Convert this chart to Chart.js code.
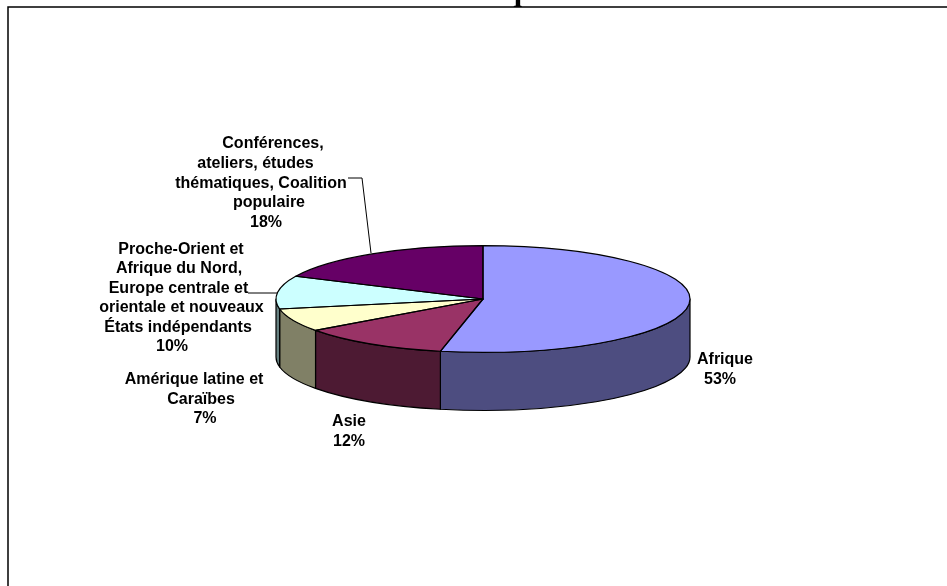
<!DOCTYPE html>
<html>
<head>
<meta charset="utf-8">
<title>thématiques</title>
<script src="https://cdn.jsdelivr.net/npm/chart.js@4/dist/chart.umd.min.js"></script>
<style>
  html, body { margin: 0; padding: 0; background: #fff; overflow: hidden; }
  canvas { display: block; }
</style>
</head>
<body>
<canvas id="myChart" width="947" height="586"></canvas>
<script>
const titleText = 'thématiques';
const categories = [
  ['Afrique'],
  ['Asie'],
  ['Amérique latine et', 'Caraïbes'],
  ['Proche-Orient et', 'Afrique du Nord,', 'Europe centrale et', 'orientale et nouveaux', 'États indépendants'],
  ['Conférences,', 'ateliers, études', 'thématiques, Coalition', 'populaire']
];
const shares = [53.3, 11.7, 7, 10, 18];
const topColors = ['#9999ff', '#993366', '#ffffcc', '#ccffff', '#660066'];
const wallColors = ['#4d4d80', '#4d1a33', '#808066', '#668080', '#330033'];

// where each label line sits: centre x of every line, then baseline of the first line and line step
const labelPlaces = [
  { xs: [725, 720], y: 364, step: 20 },
  { xs: [349, 349], y: 426, step: 19.5 },
  { xs: [194, 201, 205], y: 384, step: 19.5 },
  { xs: [181, 179, 178.5, 181.5, 178, 172], y: 254, step: 19.4 },
  { xs: [273, 255.5, 261, 269, 266], y: 148, step: 19.8 }
];
const leaderLines = [
  [[248, 293], [277, 293]],
  [[348, 178], [362, 178], [371, 253]]
];

const tilt = 0.258;
const depth = 58;

const pie3d = {
  id: 'pie3d',
  beforeDatasetsDraw(chart) {
    const ctx = chart.ctx;
    const arcs = chart.getDatasetMeta(0).data;
    ctx.save();
    ctx.strokeStyle = '#000';
    ctx.lineWidth = 1.2;
    ctx.lineJoin = 'round';
    arcs.forEach((arc, i) => {
      // only the front half of the rim shows
      const from = Math.max(arc.startAngle, 0);
      const to = Math.min(arc.endAngle, Math.PI);
      if (to <= from) return;
      const r = arc.outerRadius;
      ctx.beginPath();
      ctx.ellipse(arc.x, arc.y, r, r * tilt, 0, from, to);
      ctx.ellipse(arc.x, arc.y + depth, r, r * tilt, 0, to, from, true);
      ctx.closePath();
      ctx.fillStyle = wallColors[i];
      ctx.fill();
      ctx.stroke();
    });
    ctx.restore();
    // squash the library's own round pie into the top face
    const cy = arcs[0].y;
    ctx.save();
    ctx.translate(0, cy);
    ctx.scale(1, tilt);
    ctx.translate(0, -cy);
  },
  afterDatasetsDraw(chart) {
    const ctx = chart.ctx;
    ctx.restore();
    ctx.save();
    ctx.strokeStyle = '#000';
    ctx.lineWidth = 1.2;
    ctx.lineJoin = 'round';
    chart.getDatasetMeta(0).data.forEach(arc => {
      const r = arc.outerRadius;
      ctx.beginPath();
      ctx.moveTo(arc.x, arc.y);
      ctx.ellipse(arc.x, arc.y, r, r * tilt, 0, arc.startAngle, arc.endAngle);
      ctx.closePath();
      ctx.stroke();
    });
    ctx.restore();
  },
  afterDraw(chart) {
    const ctx = chart.ctx;
    ctx.save();
    ctx.fillStyle = '#000';

    ctx.font = 'bold 31px "Liberation Serif"';
    ctx.textAlign = 'center';
    ctx.textBaseline = 'alphabetic';
    ctx.fillText(titleText, 484, 0);

    // page frame, open at the right and bottom
    ctx.strokeStyle = '#000';
    ctx.lineWidth = 1.5;
    ctx.beginPath();
    ctx.moveTo(8, 586);
    ctx.lineTo(8, 7);
    ctx.lineTo(947, 7);
    ctx.stroke();

    ctx.lineWidth = 1;
    leaderLines.forEach(pts => {
      ctx.beginPath();
      pts.forEach((p, i) => i ? ctx.lineTo(p[0], p[1]) : ctx.moveTo(p[0], p[1]));
      ctx.stroke();
    });

    ctx.font = 'bold 16px "Liberation Sans"';
    categories.forEach((lines, i) => {
      const place = labelPlaces[i];
      lines.concat(Math.round(shares[i]) + '%').forEach((line, j) => {
        ctx.fillText(line, place.xs[j], place.y + j * place.step);
      });
    });
    ctx.restore();
  }
};

new Chart(document.getElementById('myChart').getContext('2d'), {
  type: 'pie',
  data: {
    labels: categories.map(c => c.join(' ')),
    datasets: [{
      data: shares,
      backgroundColor: topColors,
      borderWidth: 0
    }]
  },
  options: {
    responsive: false,
    animation: false,
    events: [],
    layout: { padding: { left: 276, right: 257, top: 92, bottom: 80 } },
    plugins: {
      legend: { display: false },
      title: { display: false },
      tooltip: { enabled: false }
    }
  },
  plugins: [pie3d]
});
</script>
</body>
</html>
